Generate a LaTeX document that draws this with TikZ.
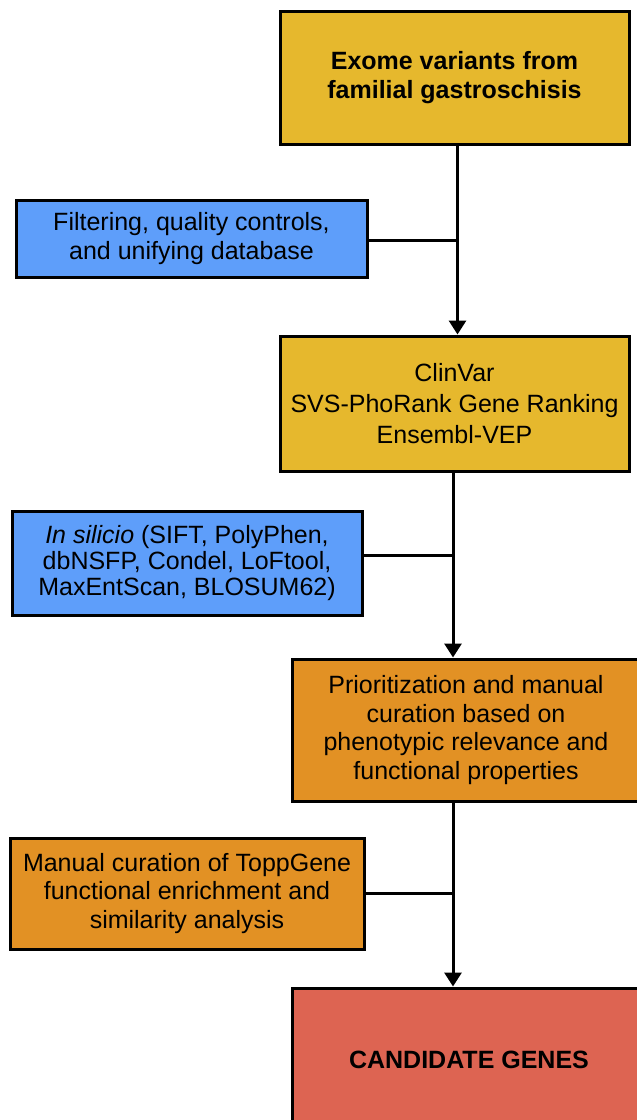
\documentclass[tikz,border=0pt]{standalone}
\usepackage{fontspec}
\setmainfont{Liberation Sans}
\usetikzlibrary{arrows.meta}
\definecolor{cyellow}{RGB}{230,184,45}
\definecolor{cblue}{RGB}{94,158,250}
\definecolor{corange}{RGB}{226,145,36}
\definecolor{cred}{RGB}{221,100,82}
\tikzset{
  box/.style={draw=black, line width=3pt, rectangle, align=center, inner sep=0pt,
    font=\fontsize{25}{28.5}\selectfont},
  link/.style={line width=3pt},
  arrowlink/.style={line width=3pt, -{Triangle[width=17pt,length=14pt]}},
}
\begin{document}
\begin{tikzpicture}[x=1pt,y=-1pt]
\useasboundingbox (0,0) rectangle (637,1120);
\clip (0,0) rectangle (637,1120);
\node[box, fill=cyellow, minimum width=349pt, minimum height=133pt] (b1) at (454.5,77.5)
  {\bfseries Exome variants from\\\bfseries familial gastroschisis};
\node[box, fill=cblue, minimum width=351pt, minimum height=77pt] (b2) at (191.5,238.5)
  {Filtering, quality controls,\\and unifying database};
\node[box, fill=cyellow, minimum width=349pt, minimum height=135pt,
  font=\fontsize{25}{31}\selectfont] (b3) at (454.5,403.5)
  {ClinVar\\SVS-PhoRank Gene Ranking\\Ensembl-VEP};
\node[box, fill=cblue, minimum width=350pt, minimum height=104pt,
  font=\fontsize{25}{26}\selectfont] (b4) at (187,563)
  {\textit{In silicio} (SIFT, PolyPhen,\\dbNSFP, Condel, LoFtool,\\MaxEntScan, BLOSUM62)};
\node[box, fill=corange, minimum width=348pt, minimum height=142pt] (b5) at (466,730)
  {Prioritization and manual\\curation based on\\phenotypic relevance and\\functional properties};
\node[box, fill=corange, minimum width=354pt, minimum height=111pt] (b6) at (187,893.5)
  {Manual curation of ToppGene\\functional enrichment and\\similarity analysis};
\node[box, fill=cred, minimum width=354pt, minimum height=144pt] (b7) at (469,1060)
  {\bfseries CANDIDATE GENES};
% junction points
\coordinate (s1) at ([xshift=3pt]b1.south);
\coordinate (s3) at ([xshift=-1.5pt]b3.south);
\coordinate (s5) at ([xshift=-13pt]b5.south);
\coordinate (e2) at ([yshift=-1.5pt]b2.east);
\coordinate (e4) at ([yshift=8pt]b4.east);
% connectors
\draw[arrowlink] (s1) -- (s1 |- b3.north);
\draw[link] (e2) -- (e2 -| s1);
\draw[arrowlink] (s3) -- (s3 |- b5.north);
\draw[link] (e4) -- (e4 -| s3);
\draw[arrowlink] (s5) -- (s5 |- b7.north);
\draw[link] (b6.east) -- (b6.east -| s5);
\end{tikzpicture}
\end{document}
